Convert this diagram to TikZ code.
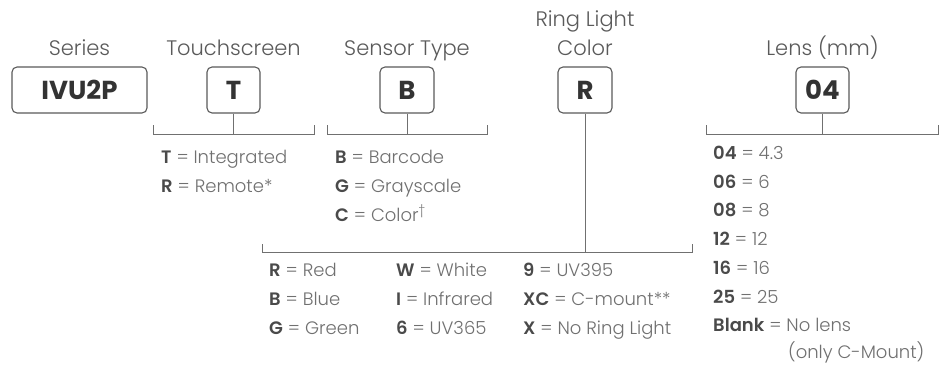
\documentclass[tikz,border=0pt]{standalone}
\usepackage{fontspec}
\setmainfont{Poppins}[UprightFont={* Light}, BoldFont={* SemiBold}]
\newfontfamily\heavy{Poppins}[UprightFont={* Bold}]
\definecolor{titlegray}{HTML}{5A5A5A}
\definecolor{itemgray}{HTML}{707070}
\definecolor{keygray}{HTML}{4A4A4A}
\definecolor{codegray}{HTML}{333333}
\definecolor{boxgray}{HTML}{5A5A5A}
\definecolor{linegray}{HTML}{707070}
\newcommand{\kk}[1]{\textcolor{keygray}{\textbf{#1}}}
\begin{document}
\begin{tikzpicture}[x=1pt,y=-1pt,
  title/.style={anchor=base, inner sep=0pt, font=\fontsize{21}{24}\selectfont, text=titlegray},
  code/.style={draw=boxgray, line width=1.1pt, rounded corners=5pt, minimum height=46pt, inner sep=0pt, font=\fontsize{26}{28}\heavy, text=codegray},
  item/.style={anchor=base west, inner sep=0pt, font=\fontsize{18}{20}\selectfont, text=itemgray},
  link/.style={draw=linegray, line width=1pt}]
\useasboundingbox[fill=white] (0,0) rectangle (943,372);

% titles
\node[title] (tseries) at (79.5,55) {Series};
\node[title] (ttouch) at (233.5,55) {Touchscreen};
\node[title] (tsensor) at (407,55) {Sensor Type};
\node[title] (tring1) at (585,27) {Ring Light};
\node[title] (tring2) at (585,55) {Color};
\node[title] (tlens) at (822.5,55) {Lens (mm)};

% code boxes
\node[code, minimum width=135pt] (series) at (79.5,90) {IVU2P};
\node[code, minimum width=53pt] (touch) at (233.5,90) {T};
\node[code, minimum width=54pt] (sensor) at (407,90) {B};
\node[code, minimum width=54pt] (ring) at (585,90) {R};
\node[code, minimum width=53pt] (lens) at (822.5,90) {04};

% brackets
\coordinate (tj) at (233.5,134);
\coordinate (tl) at (153,134); \coordinate (tr) at (314,134);
\draw[link] (touch.south) -- (tj);
\draw[link] ([yshift=9pt]tl) -- (tl) -- (tr) -- ([yshift=9pt]tr);

\coordinate (sj) at (407,134);
\coordinate (sl) at (327,134); \coordinate (sr) at (487,134);
\draw[link] (sensor.south) -- (sj);
\draw[link] ([yshift=9pt]sl) -- (sl) -- (sr) -- ([yshift=9pt]sr);

\coordinate (rj) at (585,252);
\coordinate (rl) at (262,252); \coordinate (rr) at (692,252);
\draw[link] (ring.south) -- (rj);
\draw[link] ([yshift=8pt]rl) -- (rl) -- (rr) -- ([yshift=8pt]rr);

\coordinate (lj) at (822.5,134);
\coordinate (ll) at (706,134); \coordinate (lr) at (938,134);
\draw[link] (lens.south) -- (lj);
\draw[link] ([yshift=9pt]ll) -- (ll) -- (lr) -- ([yshift=9pt]lr);

% touchscreen items
\node[item] (t1) at (161,163) {\kk{T} = Integrated};
\node[item] (t2) at (161,192) {\kk{R} = Remote*};

% sensor items
\node[item] (s1) at (335,163) {\kk{B} = Barcode};
\node[item] (s2) at (335,192) {\kk{G} = Grayscale};
\node[item] (s3) at (335,221) {\kk{C} = Color\textsuperscript{\dag}};

% ring light items
\node[item] (r1) at (269,276) {\kk{R} = Red};
\node[item] (r2) at (269,305) {\kk{B} = Blue};
\node[item] (r3) at (269,334) {\kk{G} = Green};
\node[item] (r4) at (396,276) {\kk{W} = White};
\node[item] (r5) at (396,305) {\kk{I} = Infrared};
\node[item] (r6) at (396,334) {\kk{6} = UV365};
\node[item] (r7) at (523,276) {\kk{9} = UV395};
\node[item] (r8) at (523,305) {\kk{XC} = C-mount**};
\node[item] (r9) at (523,334) {\kk{X} = No Ring Light};

% lens items
\node[item] (l1) at (713,159) {\kk{04} = 4.3};
\node[item] (l2) at (713,188) {\kk{06} = 6};
\node[item] (l3) at (713,216) {\kk{08} = 8};
\node[item] (l4) at (713,245) {\kk{12} = 12};
\node[item] (l5) at (713,274) {\kk{16} = 16};
\node[item] (l6) at (713,303) {\kk{25} = 25};
\node[item] (l7) at (713,331) {\kk{Blank} = No lens};
\node[item] (l8) at (788,358) {(only C-Mount)};
\end{tikzpicture}
\end{document}
